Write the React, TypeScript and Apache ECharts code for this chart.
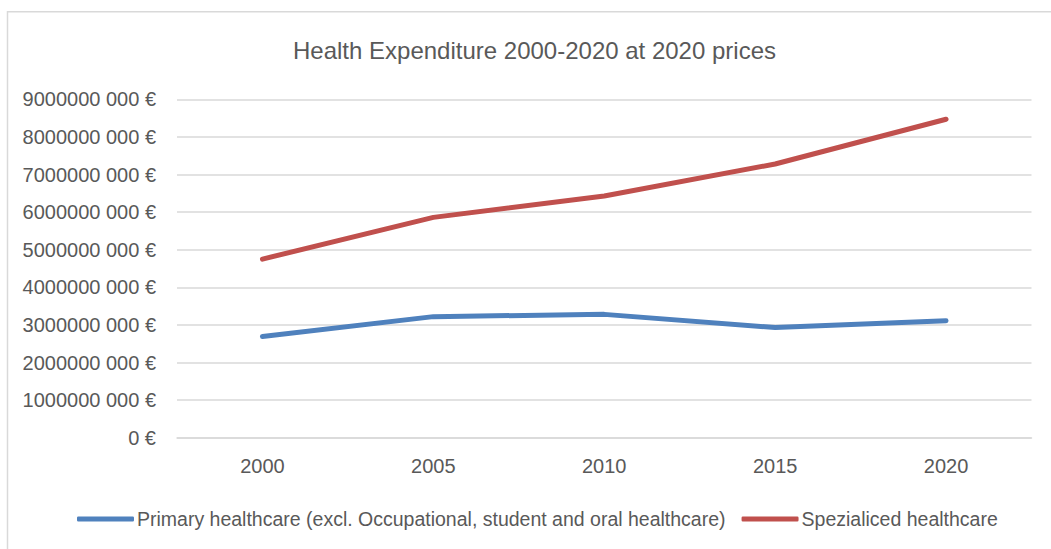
import React, { useEffect, useRef } from "react";
import * as echarts from "echarts";

const years = ["2000", "2005", "2010", "2015", "2020"];
const primaryName = "Primary healthcare (excl. Occupational, student and oral healthcare)";
const specialName = "Spezialiced healthcare";
const primaryValues = [2690000000, 3220000000, 3280000000, 2930000000, 3110000000];
const specialValues = [4750000000, 5860000000, 6430000000, 7280000000, 8470000000];
const titleText = "Health Expenditure 2000-2020 at 2020 prices";

const FONT = "'Liberation Sans Narrow', 'Arial Narrow', 'Liberation Sans', sans-serif";
const TEXT = "#595959";
const GRID = "#d9d9d9";

function fmt(v: number): string {
  if (v === 0) return "0 €";
  const hi = Math.floor(v / 1000);
  const lo = String(Math.round(v % 1000)).padStart(3, "0");
  return `${hi} ${lo} €`;
}

export default function App() {
  const ref = useRef<HTMLDivElement>(null);
  useEffect(() => {
    if (!ref.current) return;
    const chart = echarts.init(ref.current, undefined, { renderer: "svg" });
    chart.setOption({
      animation: false,
      backgroundColor: "#ffffff",
      textStyle: { fontFamily: FONT },
      title: {
        text: titleText,
        left: 288,
        top: 33,
        textStyle: { fontFamily: FONT, fontSize: 24, fontWeight: "normal", color: TEXT },
      },
      graphic: [
        {
          type: "rect",
          shape: { x: 7.5, y: 11.75, width: 1200, height: 700 },
          style: { fill: "none", stroke: GRID, lineWidth: 1.5 },
          silent: true,
        },
      ],
      legend: {
        left: 72,
        top: 504,
        itemWidth: 57,
        itemHeight: 5,
        itemGap: 16,
        icon: "roundRect",
        textStyle: { fontFamily: FONT, fontSize: 19.5, color: TEXT, padding: [0, 0, 0, -2] },
        data: [primaryName, specialName],
      },
      grid: { left: 177, right: 19.5, top: 99.3, bottom: 111.3, containLabel: false },
      xAxis: {
        type: "category",
        data: years,
        boundaryGap: true,
        axisLine: { lineStyle: { color: GRID, width: 1.5 } },
        axisTick: { show: false },
        axisLabel: { fontFamily: FONT, fontSize: 20, color: TEXT, margin: 18 },
      },
      yAxis: {
        type: "value",
        min: 0,
        max: 9000000000,
        interval: 1000000000,
        axisLine: { show: false },
        axisTick: { show: false },
        splitLine: { lineStyle: { color: GRID, width: 1.5 } },
        axisLabel: { fontFamily: FONT, fontSize: 20, color: TEXT, margin: 21, formatter: fmt },
      },
      series: [
        {
          name: primaryName,
          type: "line",
          data: primaryValues,
          symbol: "none",
          color: "#4f81bd",
          lineStyle: { width: 5, color: "#4f81bd", cap: "round", join: "round" },
        },
        {
          name: specialName,
          type: "line",
          data: specialValues,
          symbol: "none",
          color: "#c0504d",
          lineStyle: { width: 5, color: "#c0504d", cap: "round", join: "round" },
        },
      ],
    });
    return () => chart.dispose();
  }, []);
  return (
    <div
      ref={ref}
      style={{ position: "fixed", left: 0, top: 0, width: 1051, height: 549, background: "#fff" }}
    />
  );
}
